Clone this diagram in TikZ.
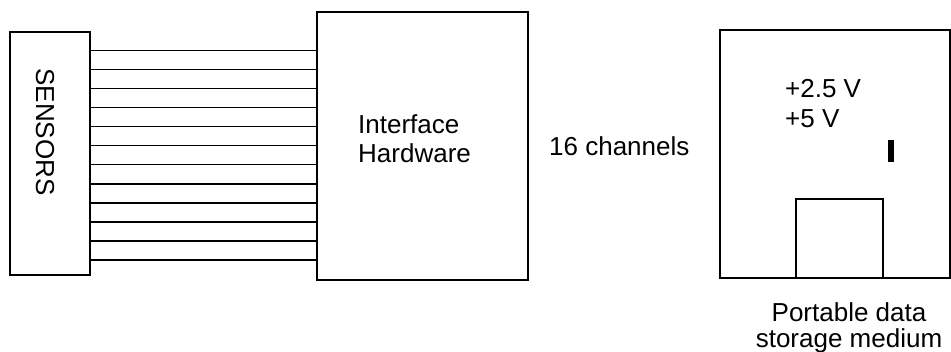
\documentclass[tikz,border=0pt]{standalone}
\usepackage{fontspec}
\setmainfont{Liberation Sans}
\begin{document}
\begin{tikzpicture}[x=1pt,y=-1pt,
  box/.style={draw,line width=1.5pt,inner sep=0pt},
  wire/.style={line width=1.2pt},
  lbl/.style={inner sep=0pt,font=\fontsize{26}{29}\selectfont}]
\useasboundingbox (0,0) rectangle (951,352);
% boxes
\node[box,minimum width=80pt,minimum height=243pt] (sens) at (50,153.5) {};
\node[box,minimum width=211pt,minimum height=268pt] (iface) at (422.5,146) {};
\node[box,minimum width=230pt,minimum height=248pt] (store) at (835,154) {};
\draw[line width=1.5pt] (796,278) |- (883,199) -- (883,278);
% sensors text
\node[lbl,rotate=-90] (senslbl) at (45,132) {SENSORS};
% wires
\foreach \i in {0,...,11}{
  \coordinate (a\i) at (90,{50.7+\i*19.03});
  \coordinate (b\i) at (317,{50.7+\i*19.03});
  \draw[wire] (a\i) -- (b\i);
}
% labels
\node[lbl,anchor=base west] (if1) at (358,134) {Interface};
\node[lbl,anchor=base west] (if2) at (358,163) {Hardware};
\node[lbl,anchor=base west] (chan) at (549,156) {16 channels};
\node[lbl,anchor=base west] (v1) at (785,98) {+2.5 V};
\node[lbl,anchor=base west] (v2) at (785,128) {+5 V};
\fill (888,140) rectangle (894,162);
\node[lbl,anchor=base] (p1) at (849,322) {Portable data};
\node[lbl,anchor=base] (p2) at (849,348) {storage medium};
\end{tikzpicture}
\end{document}
